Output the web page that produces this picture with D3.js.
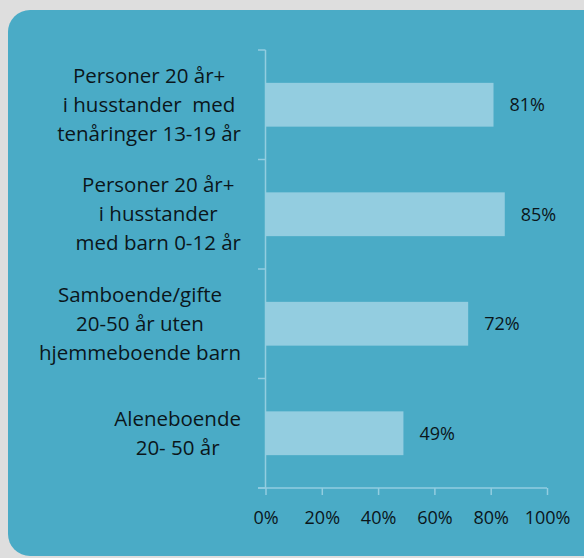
<!DOCTYPE html>
<html><head><meta charset="utf-8">
<script src="https://cdn.jsdelivr.net/npm/d3@7"></script>
<style>
html,body{margin:0;padding:0;background:#dedede;}
svg{display:block;}
text{font-family:"Open Sans",Lato,sans-serif;fill:#0b161b;}
</style></head>
<body>
<svg id="chart" width="584" height="558"></svg>
<script>
const categories = [
  ["Personer 20 år+", "i husstander  med", "tenåringer 13-19 år"],
  ["Personer 20 år+", "i husstander", "med barn 0-12 år"],
  ["Samboende/gifte", "20-50 år uten", "hjemmeboende barn"],
  ["Aleneboende", "20- 50 år"]
];
const values = [81, 85, 72, 49];
const valueLabels = ["81%", "85%", "72%", "49%"];
const xTicks = [0, 20, 40, 60, 80, 100];
const xTickLabels = ["0%", "20%", "40%", "60%", "80%", "100%"];

const svg = d3.select("#chart");
svg.append("rect").attr("x", 8).attr("y", 10).attr("width", 600).attr("height", 546)
  .attr("rx", 22).attr("ry", 22).attr("fill", "#4aabc6");

const x = d3.scaleLinear().domain([0, 100]).range([265.5, 547]);
const idx = d3.range(categories.length);
const y = d3.scaleBand().domain(idx).range([50, 488]).paddingInner(0.6).paddingOuter(0.3);
const axisColor = "#92cde0";

// category boundary ticks + y axis line
const bounds = d3.range(categories.length + 1).map(i => 50 + i * y.step());
svg.append("line").attr("x1", x(0)).attr("x2", x(0)).attr("y1", 50).attr("y2", 488)
  .attr("stroke", axisColor).attr("stroke-width", 1.5);
svg.selectAll(".ytick").data(bounds).join("line")
  .attr("x1", 258).attr("x2", x(0)).attr("y1", d => d).attr("y2", d => d)
  .attr("stroke", axisColor).attr("stroke-width", 1.5);

// x axis
const xAxis = d3.axisBottom(x).tickValues(xTicks).tickFormat((d, i) => xTickLabels[i])
  .tickSize(7).tickSizeOuter(0).tickPadding(16);
const gx = svg.append("g").attr("transform", "translate(0,488)").call(xAxis);
gx.select(".domain").remove();
gx.append("line").attr("x1", 258).attr("x2", 547).attr("y1", 0).attr("y2", 0)
  .attr("stroke", axisColor).attr("stroke-width", 1.5);
gx.selectAll(".tick line").attr("stroke", axisColor).attr("stroke-width", 1.5);
gx.selectAll(".tick text").attr("font-size", 18).attr("font-family", "'Open Sans',Lato,sans-serif")
  .attr("fill", "#0b161b");

// bars
svg.selectAll(".bar").data(values).join("rect")
  .attr("x", x(0)).attr("y", (d, i) => y(i))
  .attr("width", d => x(d) - x(0)).attr("height", y.bandwidth())
  .attr("fill", "#93cde0");

// value labels
svg.selectAll(".val").data(values).join("text")
  .attr("x", d => x(d) + 16).attr("y", (d, i) => y(i) + y.bandwidth() / 2)
  .attr("dy", "0.35em").attr("font-size", 18).text((d, i) => valueLabels[i]);

// category labels: each block centred, widest line ending near the axis
const lineH = 29;
const rightEdge = 241;
categories.forEach((lines, i) => {
  const cy = y(i) + y.bandwidth() / 2;
  const n = lines.length;
  const t = svg.append("text").attr("text-anchor", "middle").attr("font-size", 20.5)
    .style("white-space", "pre");
  const spans = lines.map((s, j) => t.append("tspan")
      .attr("y", cy + (j - (n - 1) / 2) * lineH).attr("dy", "0.35em").text(s));
  const maxW = d3.max(spans, sp => sp.node().getComputedTextLength());
  spans.forEach(sp => sp.attr("x", rightEdge - maxW / 2));
});
</script>
</body></html>
